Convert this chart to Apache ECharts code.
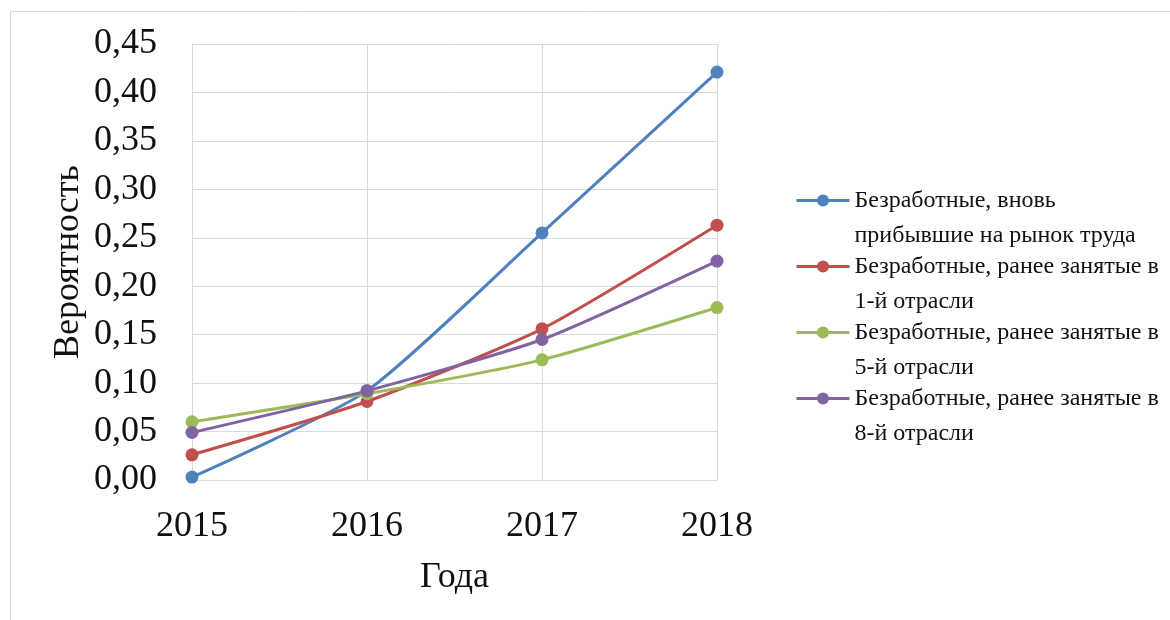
<!DOCTYPE html>
<html>
<head>
<meta charset="utf-8">
<title>Вероятность</title>
<script src="https://cdn.jsdelivr.net/npm/echarts@6/dist/echarts.min.js"></script>
<style>
    html, body { margin: 0; padding: 0; background: #fff; }
    #chart { width: 1170px; height: 620px; }
</style>
</head>
<body>
<div id="chart"></div>
<script>
// годы
var years = ['2015', '2016', '2017', '2018'];
// названия рядов
var seriesNames = [
    'Безработные, вновь\nприбывшие на рынок труда',
    'Безработные, ранее занятые в\n1-й отрасли',
    'Безработные, ранее занятые в\n5-й отрасли',
    'Безработные, ранее занятые в\n8-й отрасли'
];
var newcomers = [0.003, 0.092, 0.255, 0.421];
var sector1 = [0.026, 0.081, 0.156, 0.263];
var sector5 = [0.060, 0.089, 0.124, 0.178];
var sector8 = [0.049, 0.092, 0.145, 0.226];
var colors = ['#4F81BD', '#C0504D', '#9BBB59', '#8064A2'];

var font = 'Liberation Serif';
var myChart = echarts.init(document.getElementById('chart'));

function makeSeries(name, data, color) {
    return {
        name: name,
        type: 'line',
        data: data,
        smooth: 0.2,
        symbol: 'circle',
        symbolSize: 13,
        itemStyle: { color: color },
        lineStyle: { color: color, width: 3 },
        emphasis: { disabled: true }
    };
}

var option = {
    animation: false,
    color: colors,
    graphic: [{
        type: 'rect',
        shape: { x: 10.5, y: 11.5, width: 1300, height: 800 },
        style: { fill: 'none', stroke: '#d9d9d9', lineWidth: 1 },
        silent: true
    }],
    grid: {
        left: 192,
        top: 44,
        right: 453,
        bottom: 140
    },
    legend: {
        left: 795,
        top: 148,
        orient: 'vertical',
        padding: 0,
        itemGap: -39,
        itemWidth: 53,
        itemHeight: 15,
        data: seriesNames,
        lineStyle: { width: 3 },
        // пустая первая строка, чтобы маркер стоял у первой строки подписи
        formatter: function (name) {
            return ' \n' + name;
        },
        textStyle: {
            fontFamily: font,
            fontSize: 24,
            color: '#111',
            lineHeight: 35
        }
    },
    xAxis: {
        type: 'category',
        data: years,
        boundaryGap: false,
        name: 'Года',
        nameLocation: 'middle',
        nameGap: 80,
        nameTextStyle: { fontFamily: font, fontSize: 36, color: '#111' },
        axisLine: { lineStyle: { color: '#d9d9d9', width: 1 } },
        axisTick: { show: false },
        axisLabel: { fontFamily: font, fontSize: 36, color: '#111', margin: 29 },
        splitLine: { show: true, lineStyle: { color: '#d9d9d9', width: 1 } }
    },
    yAxis: {
        type: 'value',
        min: 0,
        max: 0.45,
        interval: 0.05,
        name: 'Вероятность',
        nameLocation: 'middle',
        nameGap: 105,
        nameTextStyle: { fontFamily: font, fontSize: 36, color: '#111' },
        axisLine: { show: true, lineStyle: { color: '#d9d9d9', width: 1 } },
        axisTick: { show: false },
        axisLabel: {
            fontFamily: font,
            fontSize: 36,
            color: '#111',
            margin: 35,
            formatter: function (v) {
                return v.toFixed(2).replace('.', ',');
            }
        },
        splitLine: { show: true, lineStyle: { color: '#d9d9d9', width: 1 } }
    },
    series: [
        makeSeries(seriesNames[0], newcomers, colors[0]),
        makeSeries(seriesNames[1], sector1, colors[1]),
        makeSeries(seriesNames[2], sector5, colors[2]),
        makeSeries(seriesNames[3], sector8, colors[3])
    ]
};

myChart.setOption(option);
</script>
</body>
</html>
